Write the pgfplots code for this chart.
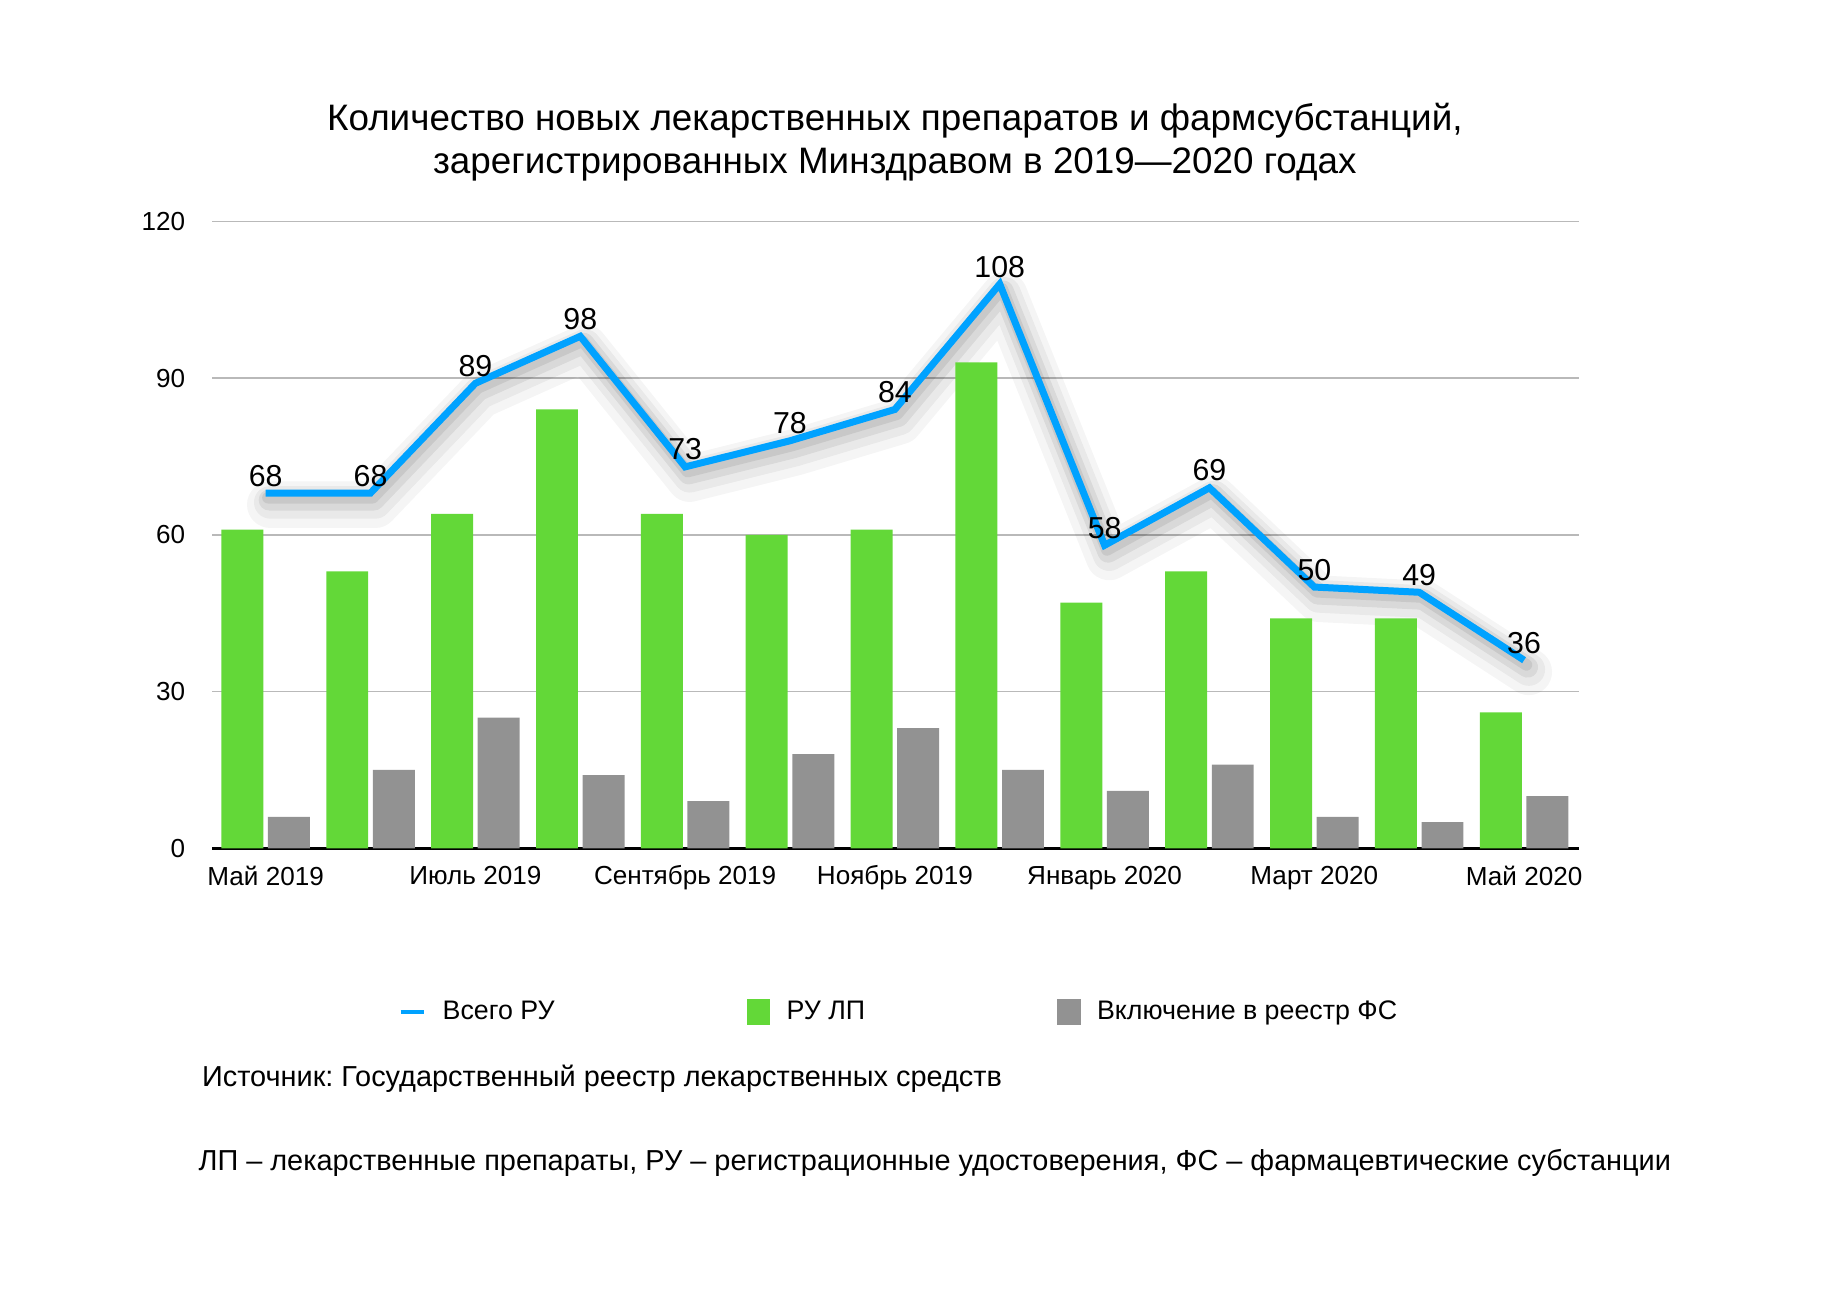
\documentclass[border=0pt]{standalone}
\usepackage{pgfplots}
\usepackage{pgfplotstable}
\pgfplotsset{compat=1.18}
\usepackage{fontspec}
\setmainfont{Liberation Sans}
\frenchspacing

\definecolor{ruBlue}{RGB}{0,162,255}
\definecolor{ruGreen}{RGB}{99,216,56}
\definecolor{ruGray}{RGB}{146,146,146}

% x = month index (0 = May 2019 ... 12 = May 2020)
\pgfplotstableread{
x  total lp fs
0  68  61  6
1  68  53  15
2  89  64  25
3  98  84  14
4  73  64  9
5  78  60  18
6  84  61  23
7  108 93  15
8  58  47  11
9  69  53  16
10 50  44  6
11 49  44  5
12 36  26  10
}\regdata

\begin{document}
\begin{tikzpicture}
\useasboundingbox (0,0) rectangle (784pt,560pt);

\node[align=center, font=\fontsize{15.8}{18.5}\selectfont] at (384pt,499pt)
  {Количество новых лекарственных препаратов и фармсубстанций,\\
   зарегистрированных Минздравом в 2019—2020 годах};

\begin{axis}[
    at={(91pt,196pt)}, anchor=south west,
    scale only axis,
    width=586.5pt, height=269pt,
    xmin=-0.511, xmax=12.522,
    ymin=0, ymax=120,
    clip=false,
    ytick={0,30,60,90,120},
    xtick={0,2,...,12},
    xticklabels={Май 2019, Июль 2019, Сентябрь 2019, Ноябрь 2019, Январь 2020, Март 2020, Май 2020},
    /pgf/number format/assume math mode=true,
    ticklabel style={font=\fontsize{11.2}{13}\selectfont},
    xticklabel style={yshift=-4pt},
    yticklabel style={xshift=-8pt},
    major tick length=0pt,
    axis x line*=bottom,
    axis y line*=left,
    x axis line style={black, line width=1.4pt},
    y axis line style={draw=none},
    ymajorgrids,
    grid style={gray!55, line width=0.6pt},
    legend columns=3,
    legend cell align=left,
    legend style={
        at={(0.136,-0.261)}, anchor=west,
        draw=none, fill=none, inner sep=0pt,
        font=\fontsize{11.5}{13}\selectfont,
        /tikz/every odd column/.append style={column sep=5pt},
        /tikz/every even column/.append style={column sep=80.5pt},
    },
]

% soft shadow under the line
\addplot[black, opacity=0.04, line width=20pt, line join=round, line cap=round,
         forget plot, xshift=2pt, yshift=-5pt] table[x=x, y=total] {\regdata};
\addplot[black, opacity=0.05, line width=14pt, line join=round, line cap=round,
         forget plot, xshift=2pt, yshift=-4pt] table[x=x, y=total] {\regdata};
\addplot[black, opacity=0.07, line width=9pt, line join=round, line cap=round,
         forget plot, xshift=1.5pt, yshift=-3pt] table[x=x, y=total] {\regdata};
\addplot[black, opacity=0.08, line width=5pt, line join=round, line cap=round,
         forget plot, xshift=1pt, yshift=-2pt] table[x=x, y=total] {\regdata};

\addplot[ruBlue, line width=3pt, line join=miter,
         nodes near coords,
         every node near coord/.append style={black, anchor=base, yshift=3pt,
             inner sep=0pt, font=\fontsize{13}{15}\selectfont},
         legend image code/.code={\draw[ruBlue, line width=2pt] (0pt,0pt) -- (10pt,0pt);}]
    table[x=x, y=total] {\regdata};
\addlegendentry{Всего РУ}

\addplot[ybar, bar width=0.4, bar shift=-0.222, fill=ruGreen, draw=none,
         legend image code/.code={\fill[ruGreen] (0pt,-5.5pt) rectangle (10pt,5.5pt);}]
    table[x=x, y=lp] {\regdata};
\addlegendentry{РУ ЛП}

\addplot[ybar, bar width=0.4, bar shift=0.222, fill=ruGray, draw=none,
         legend image code/.code={\fill[ruGray] (0pt,-5.5pt) rectangle (10pt,5.5pt);}]
    table[x=x, y=fs] {\regdata};
\addlegendentry{Включение в реестр ФС}

\end{axis}

\node[anchor=west, inner sep=0pt, font=\fontsize{12.4}{14}\selectfont] at (86.5pt,97pt)
  {Источник: Государственный реестр лекарственных средств};
\node[anchor=west, inner sep=0pt, font=\fontsize{12.4}{14}\selectfont] at (85pt,61pt)
  {ЛП – лекарственные препараты, РУ – регистрационные удостоверения, ФС – фармацевтические субстанции};
\end{tikzpicture}
\end{document}
